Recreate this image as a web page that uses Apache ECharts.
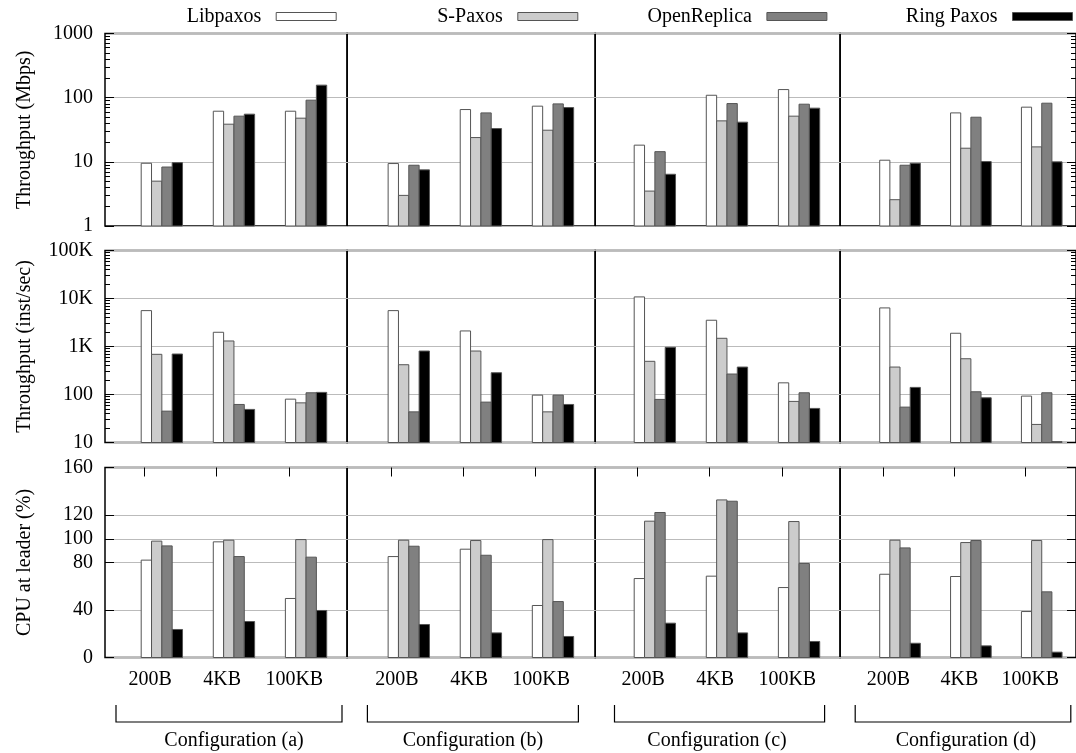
<!DOCTYPE html>
<html>
<head>
<meta charset="utf-8">
<script src="https://cdn.jsdelivr.net/npm/echarts@6/dist/echarts.min.js"></script>
<style>
html,body{margin:0;padding:0;background:#fff;}
#chart{width:1076px;height:753px;}
</style>
</head>
<body>
<div id="chart"></div>
<script>
// ---------- data ----------
const sizes = ['200B', '4KB', '100KB'];
const configs = ['Configuration (a)', 'Configuration (b)', 'Configuration (c)', 'Configuration (d)'];
const systems = ['Libpaxos', 'S-Paxos', 'OpenReplica', 'Ring Paxos'];

// values per system: [a200B, a4KB, a100KB, b200B, ..., d100KB]
const mbpsLibpaxos    = [9.5, 61.5, 61.5,   9.4, 65.3, 73.7,   18.2, 109, 133.7,  10.6, 57.9, 71.1];
const mbpsSPaxos      = [5.0, 38.6, 47.9,   3.0, 23.9, 31.1,   3.5, 43.5, 51.5,   2.57, 16.3, 17.1];
const mbpsOpenReplica = [8.3, 51.5, 91.4,   8.85, 57.9, 80,    14.4, 80.9, 79.1,  8.85, 49.6, 82];
const mbpsRingPaxos   = [9.7, 55.3, 156.7,  7.5, 33.0, 70.1,   6.4, 41.5, 68.6,   9.5, 10.1, 10.0];

const instLibpaxos    = [5590, 1978, 80,    5590, 2109, 97,    10790, 3524, 175,  6368, 1888, 92.7];
const instSPaxos      = [687, 1303, 67,     417, 805, 43.5,    491, 1483, 71.8,   373, 556, 23.8];
const instOpenReplica = [45, 62, 108.6,     43.5, 69.4, 97,    79, 267, 108.6,    54.6, 114, 108.6];
const instRingPaxos   = [697, 48.9, 110.7,  805, 284, 62,      962, 373, 51.3,    140.6, 85.5, 10.4];

const cpuLibpaxos     = [82, 97.4, 49.7,    85, 91.2, 43.8,    66.5, 68.5, 58.9,  70.1, 68.2, 38.7];
const cpuSPaxos       = [98, 98.8, 99.3,    98.8, 98.5, 99.3,  114.8, 132.7, 114.5, 98.8, 96.8, 98.5];
const cpuOpenReplica  = [94, 85, 84.5,      93.7, 86.1, 47.1,  122.1, 131.6, 79.2, 92.3, 98.5, 55.3];
const cpuRingPaxos    = [23.6, 30.3, 39.6,  27.8, 20.7, 17.7,  28.9, 20.7, 13.5,  12.0, 9.8, 4.5];

// tick values / labels
const mbpsTicks = [1, 10, 100, 1000];
const mbpsTickLabels = ['1', '10', '100', '1000'];
const mbpsMinorTicks = [2,3,4,5,6,7,8,9, 20,30,40,50,60,70,80,90, 200,300,400,500,600,700,800,900];
const instTicks = [10, 100, 1000, 10000, 100000];
const instTickLabels = ['10', '100', '1K', '10K', '100K'];
const instMinorTicks = [20,30,40,50,60,70,80,90, 200,300,400,500,600,700,800,900,
  2000,3000,4000,5000,6000,7000,8000,9000, 20000,30000,40000,50000,60000,70000,80000,90000];
const cpuTicks = [0, 40, 80, 100, 120, 160];
const cpuTickLabels = ['0', '40', '80', '100', '120', '160'];

// ---------- styling / layout ----------
const FONT = 'Liberation Serif';
const barColors = ['#ffffff', '#cccccc', '#808080', '#000000'];
const barBorder = '#555555';
const BAR_OFF = -0.047;   // cluster start relative to tick (axis units)
const BAR_W = 0.1433;     // single bar width (axis units)

const rows = [
  {name: 'Throughput (Mbps)', type: 'log', min: 1, max: 1000, ticks: mbpsTicks, labels: mbpsTickLabels,
   minor: mbpsMinorTicks, top: 33.5, height: 192.5,
   data: [mbpsLibpaxos, mbpsSPaxos, mbpsOpenReplica, mbpsRingPaxos]},
  {name: 'Throughput (inst/sec)', type: 'log', min: 10, max: 100000, ticks: instTicks, labels: instTickLabels,
   minor: instMinorTicks, top: 250.5, height: 192,
   data: [instLibpaxos, instSPaxos, instOpenReplica, instRingPaxos]},
  {name: 'CPU at leader (%)', type: 'value', min: 0, max: 160, ticks: cpuTicks, labels: cpuTickLabels,
   minor: null, top: 467.5, height: 190,
   data: [cpuLibpaxos, cpuSPaxos, cpuOpenReplica, cpuRingPaxos]}
];
const panels = [
  {left: 105,   width: 242.1, xmin: -0.549, xmax: 2.809},
  {left: 347.1, width: 248.1, xmin: -0.616, xmax: 2.825},
  {left: 595.2, width: 244.9, xmin: -0.588, xmax: 2.809},
  {left: 840.1, width: 240,   xmin: -0.606, xmax: 2.723}
];

function labelFor(ticks, labels, isLog) {
  return function (v) {
    for (let i = 0; i < ticks.length; i++) {
      const d = isLog ? Math.abs(Math.log10(v) - Math.log10(ticks[i])) : Math.abs(v - ticks[i]);
      if (d < 1e-6) return labels[i];
    }
    return '';
  };
}

function makeRender(k, base) {
  return function (params, api) {
    const i = api.value(0), v = api.value(1);
    const p0 = api.coord([i + BAR_OFF + k * BAR_W, v]);
    const p1 = api.coord([i + BAR_OFF + (k + 1) * BAR_W, base]);
    return {
      type: 'rect',
      shape: {x: p0[0], y: p0[1], width: p1[0] - p0[0], height: p1[1] - p0[1]},
      style: {fill: barColors[k], stroke: barBorder, lineWidth: 1}
    };
  };
}

const grid = [], xAxis = [], yAxis = [], series = [];
rows.forEach((row, r) => {
  const isLog = row.type === 'log';
  panels.forEach((pn, p) => {
    const g = grid.length;
    grid.push({left: pn.left, width: pn.width, top: row.top, height: row.height,
      show: true, borderColor: '#000', borderWidth: 1.5, backgroundColor: 'transparent'});
    const xi = xAxis.length;
    xAxis.push({
      gridIndex: g, type: 'value', min: pn.xmin, max: pn.xmax, position: 'bottom',
      axisLine: {show: false, onZero: false},
      axisTick: {show: r === 2, inside: true, length: 9, customValues: [0, 1, 2], lineStyle: {color: '#000'}},
      axisLabel: {show: r === 2, customValues: [0, 1, 2], formatter: v => sizes[Math.round(v)],
        margin: 12, padding: [0, 0, 0, 11], fontSize: 20, fontFamily: FONT, color: '#000'},
      splitLine: {show: false}
    });
    if (r === 2) {
      xAxis.push({
        gridIndex: g, type: 'value', min: pn.xmin, max: pn.xmax, position: 'top',
        axisLine: {show: false, onZero: false},
        axisTick: {show: true, inside: true, length: 9, customValues: [0, 1, 2], lineStyle: {color: '#000'}},
        axisLabel: {show: false}, splitLine: {show: false}
      });
    }
    const yi = yAxis.length;
    const pos = p === 3 ? 'right' : 'left';
    yAxis.push({
      gridIndex: g, type: row.type, min: row.min, max: row.max, position: pos, logBase: 10,
      axisLine: {show: false, onZero: false},
      axisTick: {show: p === 0 || p === 3, inside: true, length: 9, customValues: row.ticks, lineStyle: {color: '#000'}},
      axisLabel: {show: p === 0, customValues: row.ticks, formatter: labelFor(row.ticks, row.labels, isLog),
        margin: 12, fontSize: 20, fontFamily: FONT, color: '#000'},
      splitLine: {show: true, lineStyle: {color: '#bbbbbb', width: 1}},
      name: p === 0 ? row.name : '',
      nameLocation: 'middle', nameRotate: 90, nameGap: 70,
      nameTextStyle: {fontSize: 20, fontFamily: FONT, color: '#000'}
    });
    if (row.minor && (p === 0 || p === 3)) {
      yAxis.push({
        gridIndex: g, type: row.type, min: row.min, max: row.max, position: pos, logBase: 10,
        axisLine: {show: false, onZero: false},
        axisTick: {show: true, inside: true, length: 5, customValues: row.minor, lineStyle: {color: '#000'}},
        axisLabel: {show: false}, splitLine: {show: false}
      });
    }
    systems.forEach((s, k) => {
      const vals = row.data[k].slice(p * 3, p * 3 + 3);
      series.push({
        type: 'custom', name: s, xAxisIndex: xi, yAxisIndex: yi,
        encode: {x: 0, y: 1},
        itemStyle: {color: barColors[k], borderColor: barBorder, borderWidth: 1},
        renderItem: makeRender(k, row.min),
        data: vals.map((v, i) => [i, v]),
        clip: false
      });
    });
  });
});

const legendRight = [739.3, 497.7, 248.6, 3];
const legend = systems.map((s, k) => ({
  data: [{name: s, icon: 'rect', itemStyle: {color: barColors[k], borderColor: barBorder, borderWidth: 1}}],
  right: legendRight[k], top: 6.5, align: 'right', orient: 'horizontal',
  itemWidth: 60, itemHeight: 8, padding: 0,
  textStyle: {fontFamily: FONT, fontSize: 20, color: '#000', padding: [0, 10, 0, 0]}
}));

const bracketX = [[116, 342], [367.4, 578.4], [614.5, 824.6], [855.2, 1070.8]];
const configLabelX = [234, 473, 717, 966];
const graphic = [];
configs.forEach((c, j) => {
  const [a, b] = bracketX[j];
  graphic.push({type: 'polyline', silent: true,
    shape: {points: [[a, 705], [a, 722], [b, 722], [b, 705]]},
    style: {stroke: '#000', fill: null, lineWidth: 1.2}});
  graphic.push({type: 'text', silent: true, x: configLabelX[j], y: 741,
    style: {text: c, font: '20px "' + FONT + '"', fill: '#000', align: 'center', verticalAlign: 'middle'}});
});

const chart = echarts.init(document.getElementById('chart'), null, {renderer: 'canvas'});
chart.setOption({
  animation: false,
  backgroundColor: '#fff',
  grid, xAxis, yAxis, series, legend, graphic
});
</script>
</body>
</html>
